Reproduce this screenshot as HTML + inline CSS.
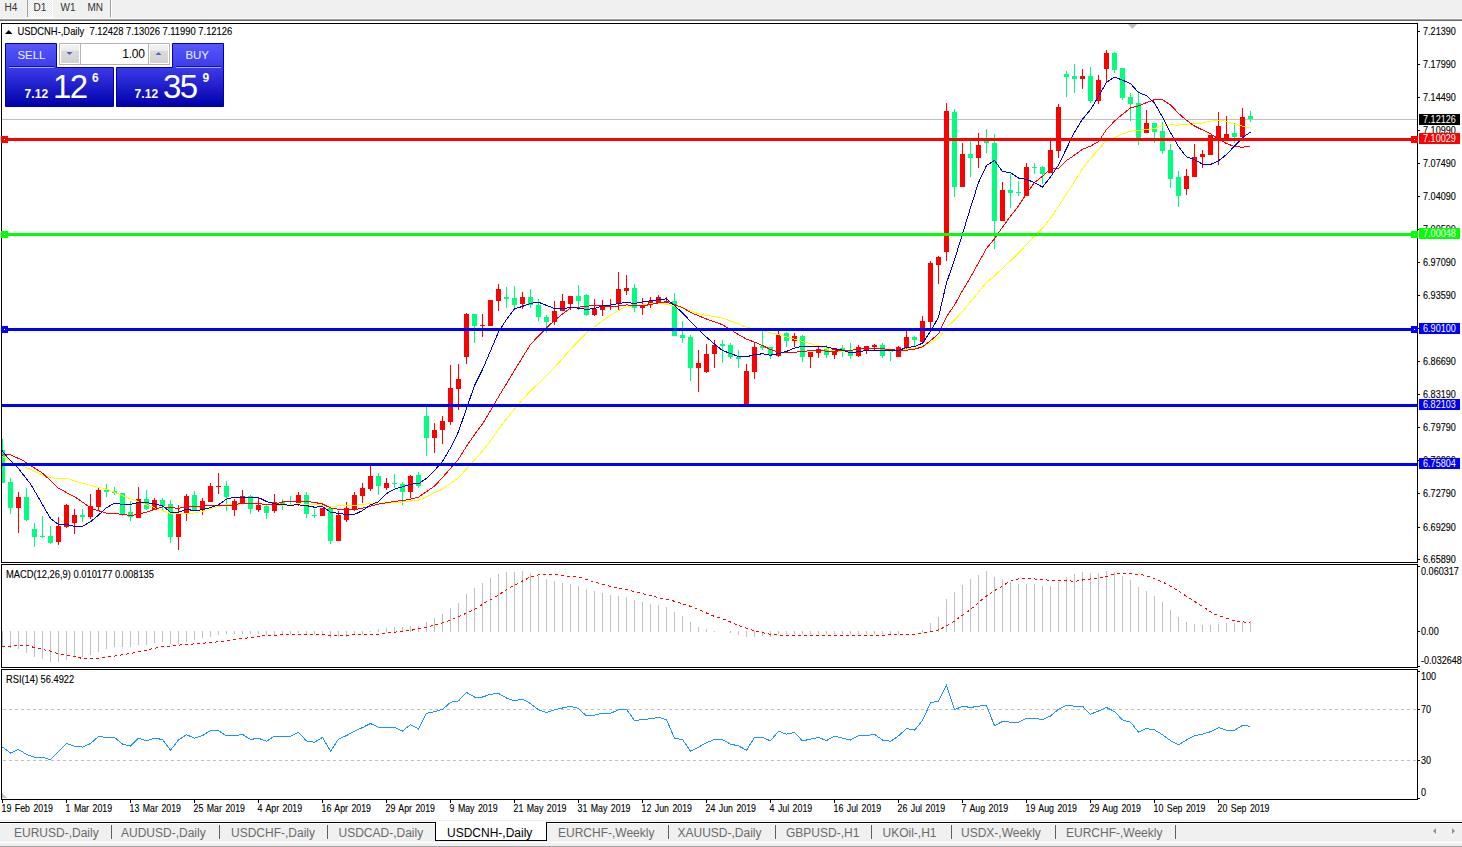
<!DOCTYPE html>
<html><head><meta charset="utf-8"><title>USDCNH Daily</title>
<style>
html,body{margin:0;padding:0;background:#fff;width:1462px;height:847px;overflow:hidden}
svg{position:absolute;left:0;top:0;font-family:"Liberation Sans",sans-serif}
rect{shape-rendering:crispEdges}
</style></head><body>
<svg width="1462" height="847" viewBox="0 0 1462 847">
<rect x="0" y="0" width="1462" height="18" fill="#F0F0F0"/>
<rect x="0" y="18" width="1462" height="1" fill="#F8F8F8"/>
<rect x="0" y="19" width="1462" height="1" fill="#A0A0A0"/>
<rect x="0" y="20" width="1462" height="1" fill="#696969"/>
<defs><pattern id="chk" x="0" y="0" width="2" height="2" patternUnits="userSpaceOnUse"><rect width="2" height="2" fill="#FFFFFF"/><rect width="1" height="1" fill="#E8E8E8"/><rect x="1" y="1" width="1" height="1" fill="#E8E8E8"/></pattern></defs>
<rect x="28" y="0" width="24" height="17" fill="url(#chk)"/>
<rect x="52" y="0" width="1" height="18" fill="#FFFFFF"/>
<rect x="27" y="17" width="26" height="1" fill="#FFFFFF"/>
<rect x="27" y="0" width="1" height="17" fill="#A0A0A0"/>
<rect x="110" y="0" width="1" height="17" fill="#A0A0A0"/>
<rect x="111" y="0" width="1" height="17" fill="#FFFFFF"/>
<text x="4.5" y="11" font-size="10" fill="#333" font-weight="normal" >H4</text>
<text x="33.5" y="11" font-size="10" fill="#333" font-weight="normal" >D1</text>
<text x="60.5" y="11" font-size="10" fill="#333" font-weight="normal" >W1</text>
<text x="87.5" y="11" font-size="10" fill="#333" font-weight="normal" >MN</text>
<defs><clipPath id="cm"><rect x="2" y="24" width="1415" height="538"/></clipPath><clipPath id="cd"><rect x="2" y="565" width="1415" height="102"/></clipPath><clipPath id="cr"><rect x="2" y="670" width="1415" height="129"/></clipPath></defs>
<g clip-path="url(#cm)">
<rect x="2" y="119" width="1415" height="1" fill="#C0C0C0"/>
<rect x="2" y="439" width="1" height="44" fill="#00FF7F"/>
<rect x="0" y="450" width="5" height="33" fill="#00FF7F"/>
<rect x="10" y="478" width="1" height="36" fill="#00FF7F"/>
<rect x="8" y="482" width="5" height="26" fill="#00FF7F"/>
<rect x="18" y="492" width="1" height="41" fill="#FF0000"/>
<rect x="16" y="497" width="5" height="11" fill="#FF0000"/>
<rect x="26" y="488" width="1" height="33" fill="#00FF7F"/>
<rect x="24" y="497" width="5" height="23" fill="#00FF7F"/>
<rect x="34" y="523" width="1" height="24" fill="#00FF7F"/>
<rect x="32" y="529" width="5" height="8" fill="#00FF7F"/>
<rect x="42" y="516" width="1" height="22" fill="#00FF7F"/>
<rect x="40" y="536" width="5" height="1" fill="#00FF7F"/>
<rect x="50" y="526" width="1" height="18" fill="#00FF7F"/>
<rect x="48" y="536" width="5" height="7" fill="#00FF7F"/>
<rect x="58" y="517" width="1" height="28" fill="#FF0000"/>
<rect x="56" y="526" width="5" height="16" fill="#FF0000"/>
<rect x="66" y="504" width="1" height="24" fill="#FF0000"/>
<rect x="64" y="505" width="5" height="22" fill="#FF0000"/>
<rect x="74" y="509" width="1" height="25" fill="#FF0000"/>
<rect x="72" y="515" width="5" height="8" fill="#FF0000"/>
<rect x="82" y="509" width="1" height="13" fill="#00FF7F"/>
<rect x="80" y="515" width="5" height="2" fill="#00FF7F"/>
<rect x="90" y="494" width="1" height="25" fill="#FF0000"/>
<rect x="88" y="506" width="5" height="11" fill="#FF0000"/>
<rect x="98" y="488" width="1" height="23" fill="#FF0000"/>
<rect x="96" y="490" width="5" height="17" fill="#FF0000"/>
<rect x="106" y="484" width="1" height="13" fill="#00FF7F"/>
<rect x="104" y="490" width="5" height="2" fill="#00FF7F"/>
<rect x="114" y="487" width="1" height="8" fill="#00FF7F"/>
<rect x="112" y="491" width="5" height="2" fill="#00FF7F"/>
<rect x="122" y="493" width="1" height="23" fill="#00FF7F"/>
<rect x="120" y="493" width="5" height="21" fill="#00FF7F"/>
<rect x="130" y="501" width="1" height="20" fill="#00FF7F"/>
<rect x="128" y="512" width="5" height="5" fill="#00FF7F"/>
<rect x="138" y="487" width="1" height="31" fill="#FF0000"/>
<rect x="136" y="499" width="5" height="19" fill="#FF0000"/>
<rect x="146" y="490" width="1" height="20" fill="#00FF7F"/>
<rect x="144" y="499" width="5" height="10" fill="#00FF7F"/>
<rect x="154" y="498" width="1" height="12" fill="#FF0000"/>
<rect x="152" y="500" width="5" height="10" fill="#FF0000"/>
<rect x="162" y="498" width="1" height="12" fill="#00FF7F"/>
<rect x="160" y="500" width="5" height="6" fill="#00FF7F"/>
<rect x="170" y="500" width="1" height="43" fill="#00FF7F"/>
<rect x="168" y="504" width="5" height="33" fill="#00FF7F"/>
<rect x="178" y="505" width="1" height="45" fill="#FF0000"/>
<rect x="176" y="514" width="5" height="23" fill="#FF0000"/>
<rect x="186" y="494" width="1" height="27" fill="#FF0000"/>
<rect x="184" y="496" width="5" height="18" fill="#FF0000"/>
<rect x="194" y="491" width="1" height="19" fill="#00FF7F"/>
<rect x="192" y="495" width="5" height="15" fill="#00FF7F"/>
<rect x="202" y="498" width="1" height="17" fill="#FF0000"/>
<rect x="200" y="501" width="5" height="9" fill="#FF0000"/>
<rect x="210" y="483" width="1" height="19" fill="#FF0000"/>
<rect x="208" y="486" width="5" height="16" fill="#FF0000"/>
<rect x="218" y="473" width="1" height="21" fill="#FF0000"/>
<rect x="216" y="486" width="5" height="1" fill="#FF0000"/>
<rect x="226" y="481" width="1" height="30" fill="#00FF7F"/>
<rect x="224" y="486" width="5" height="11" fill="#00FF7F"/>
<rect x="234" y="499" width="1" height="17" fill="#FF0000"/>
<rect x="232" y="501" width="5" height="9" fill="#FF0000"/>
<rect x="242" y="490" width="1" height="13" fill="#FF0000"/>
<rect x="240" y="496" width="5" height="7" fill="#FF0000"/>
<rect x="250" y="495" width="1" height="19" fill="#00FF7F"/>
<rect x="248" y="496" width="5" height="13" fill="#00FF7F"/>
<rect x="258" y="498" width="1" height="14" fill="#FF0000"/>
<rect x="256" y="505" width="5" height="5" fill="#FF0000"/>
<rect x="266" y="505" width="1" height="14" fill="#00FF7F"/>
<rect x="264" y="506" width="5" height="7" fill="#00FF7F"/>
<rect x="274" y="494" width="1" height="19" fill="#FF0000"/>
<rect x="272" y="502" width="5" height="9" fill="#FF0000"/>
<rect x="282" y="499" width="1" height="11" fill="#00FF7F"/>
<rect x="280" y="502" width="5" height="3" fill="#00FF7F"/>
<rect x="290" y="496" width="1" height="9" fill="#00FF7F"/>
<rect x="288" y="501" width="5" height="1" fill="#00FF7F"/>
<rect x="298" y="492" width="1" height="14" fill="#FF0000"/>
<rect x="296" y="495" width="5" height="8" fill="#FF0000"/>
<rect x="306" y="492" width="1" height="26" fill="#00FF7F"/>
<rect x="304" y="495" width="5" height="19" fill="#00FF7F"/>
<rect x="314" y="509" width="1" height="9" fill="#00FF7F"/>
<rect x="312" y="515" width="5" height="1" fill="#00FF7F"/>
<rect x="322" y="508" width="1" height="8" fill="#FF0000"/>
<rect x="320" y="508" width="5" height="8" fill="#FF0000"/>
<rect x="330" y="507" width="1" height="37" fill="#00FF7F"/>
<rect x="328" y="508" width="5" height="33" fill="#00FF7F"/>
<rect x="338" y="511" width="1" height="30" fill="#FF0000"/>
<rect x="336" y="515" width="5" height="26" fill="#FF0000"/>
<rect x="346" y="502" width="1" height="20" fill="#FF0000"/>
<rect x="344" y="508" width="5" height="12" fill="#FF0000"/>
<rect x="354" y="492" width="1" height="19" fill="#FF0000"/>
<rect x="352" y="495" width="5" height="15" fill="#FF0000"/>
<rect x="362" y="483" width="1" height="20" fill="#FF0000"/>
<rect x="360" y="488" width="5" height="8" fill="#FF0000"/>
<rect x="370" y="466" width="1" height="25" fill="#FF0000"/>
<rect x="368" y="476" width="5" height="13" fill="#FF0000"/>
<rect x="378" y="473" width="1" height="22" fill="#00FF7F"/>
<rect x="376" y="476" width="5" height="10" fill="#00FF7F"/>
<rect x="386" y="478" width="1" height="12" fill="#FF0000"/>
<rect x="384" y="483" width="5" height="5" fill="#FF0000"/>
<rect x="394" y="474" width="1" height="14" fill="#00FF7F"/>
<rect x="392" y="483" width="5" height="1" fill="#00FF7F"/>
<rect x="402" y="482" width="1" height="23" fill="#00FF7F"/>
<rect x="400" y="484" width="5" height="8" fill="#00FF7F"/>
<rect x="410" y="475" width="1" height="23" fill="#FF0000"/>
<rect x="408" y="476" width="5" height="16" fill="#FF0000"/>
<rect x="418" y="472" width="1" height="16" fill="#00FF7F"/>
<rect x="416" y="475" width="5" height="11" fill="#00FF7F"/>
<rect x="426" y="407" width="1" height="49" fill="#00FF7F"/>
<rect x="424" y="416" width="5" height="22" fill="#00FF7F"/>
<rect x="434" y="423" width="1" height="30" fill="#FF0000"/>
<rect x="432" y="430" width="5" height="8" fill="#FF0000"/>
<rect x="442" y="416" width="1" height="28" fill="#FF0000"/>
<rect x="440" y="421" width="5" height="9" fill="#FF0000"/>
<rect x="450" y="365" width="1" height="60" fill="#FF0000"/>
<rect x="448" y="388" width="5" height="34" fill="#FF0000"/>
<rect x="458" y="364" width="1" height="46" fill="#FF0000"/>
<rect x="456" y="379" width="5" height="10" fill="#FF0000"/>
<rect x="466" y="313" width="1" height="51" fill="#FF0000"/>
<rect x="464" y="314" width="5" height="43" fill="#FF0000"/>
<rect x="474" y="314" width="1" height="29" fill="#00FF7F"/>
<rect x="472" y="314" width="5" height="12" fill="#00FF7F"/>
<rect x="482" y="314" width="1" height="23" fill="#FF0000"/>
<rect x="480" y="325" width="5" height="1" fill="#FF0000"/>
<rect x="490" y="300" width="1" height="26" fill="#FF0000"/>
<rect x="488" y="300" width="5" height="26" fill="#FF0000"/>
<rect x="498" y="284" width="1" height="27" fill="#FF0000"/>
<rect x="496" y="289" width="5" height="12" fill="#FF0000"/>
<rect x="506" y="287" width="1" height="21" fill="#00FF7F"/>
<rect x="504" y="297" width="5" height="2" fill="#00FF7F"/>
<rect x="514" y="286" width="1" height="24" fill="#00FF7F"/>
<rect x="512" y="298" width="5" height="7" fill="#00FF7F"/>
<rect x="522" y="292" width="1" height="17" fill="#FF0000"/>
<rect x="520" y="297" width="5" height="7" fill="#FF0000"/>
<rect x="530" y="289" width="1" height="19" fill="#00FF7F"/>
<rect x="528" y="297" width="5" height="8" fill="#00FF7F"/>
<rect x="538" y="299" width="1" height="22" fill="#00FF7F"/>
<rect x="536" y="305" width="5" height="12" fill="#00FF7F"/>
<rect x="546" y="315" width="1" height="18" fill="#00FF7F"/>
<rect x="544" y="317" width="5" height="5" fill="#00FF7F"/>
<rect x="554" y="301" width="1" height="24" fill="#FF0000"/>
<rect x="552" y="311" width="5" height="11" fill="#FF0000"/>
<rect x="562" y="294" width="1" height="17" fill="#FF0000"/>
<rect x="560" y="301" width="5" height="10" fill="#FF0000"/>
<rect x="570" y="296" width="1" height="14" fill="#FF0000"/>
<rect x="568" y="296" width="5" height="8" fill="#FF0000"/>
<rect x="578" y="285" width="1" height="25" fill="#00FF7F"/>
<rect x="576" y="296" width="5" height="5" fill="#00FF7F"/>
<rect x="586" y="294" width="1" height="22" fill="#00FF7F"/>
<rect x="584" y="295" width="5" height="20" fill="#00FF7F"/>
<rect x="594" y="299" width="1" height="17" fill="#FF0000"/>
<rect x="592" y="309" width="5" height="6" fill="#FF0000"/>
<rect x="602" y="300" width="1" height="16" fill="#FF0000"/>
<rect x="600" y="305" width="5" height="5" fill="#FF0000"/>
<rect x="610" y="299" width="1" height="11" fill="#FF0000"/>
<rect x="608" y="306" width="5" height="1" fill="#FF0000"/>
<rect x="618" y="272" width="1" height="38" fill="#FF0000"/>
<rect x="616" y="289" width="5" height="14" fill="#FF0000"/>
<rect x="626" y="275" width="1" height="20" fill="#FF0000"/>
<rect x="624" y="288" width="5" height="3" fill="#FF0000"/>
<rect x="634" y="284" width="1" height="28" fill="#00FF7F"/>
<rect x="632" y="288" width="5" height="20" fill="#00FF7F"/>
<rect x="642" y="298" width="1" height="17" fill="#FF0000"/>
<rect x="640" y="305" width="5" height="3" fill="#FF0000"/>
<rect x="650" y="297" width="1" height="11" fill="#FF0000"/>
<rect x="648" y="301" width="5" height="3" fill="#FF0000"/>
<rect x="658" y="295" width="1" height="8" fill="#FF0000"/>
<rect x="656" y="297" width="5" height="6" fill="#FF0000"/>
<rect x="666" y="297" width="1" height="5" fill="#FF0000"/>
<rect x="664" y="301" width="5" height="1" fill="#FF0000"/>
<rect x="674" y="293" width="1" height="43" fill="#00FF7F"/>
<rect x="672" y="301" width="5" height="35" fill="#00FF7F"/>
<rect x="682" y="321" width="1" height="22" fill="#00FF7F"/>
<rect x="680" y="335" width="5" height="3" fill="#00FF7F"/>
<rect x="690" y="335" width="1" height="46" fill="#00FF7F"/>
<rect x="688" y="337" width="5" height="31" fill="#00FF7F"/>
<rect x="698" y="350" width="1" height="42" fill="#FF0000"/>
<rect x="696" y="363" width="5" height="5" fill="#FF0000"/>
<rect x="706" y="344" width="1" height="29" fill="#FF0000"/>
<rect x="704" y="354" width="5" height="18" fill="#FF0000"/>
<rect x="714" y="340" width="1" height="28" fill="#FF0000"/>
<rect x="712" y="345" width="5" height="9" fill="#FF0000"/>
<rect x="722" y="340" width="1" height="23" fill="#00FF7F"/>
<rect x="720" y="344" width="5" height="2" fill="#00FF7F"/>
<rect x="730" y="343" width="1" height="16" fill="#00FF7F"/>
<rect x="728" y="345" width="5" height="12" fill="#00FF7F"/>
<rect x="738" y="350" width="1" height="18" fill="#00FF7F"/>
<rect x="736" y="357" width="5" height="2" fill="#00FF7F"/>
<rect x="746" y="364" width="1" height="40" fill="#FF0000"/>
<rect x="744" y="371" width="5" height="33" fill="#FF0000"/>
<rect x="754" y="342" width="1" height="37" fill="#FF0000"/>
<rect x="752" y="347" width="5" height="25" fill="#FF0000"/>
<rect x="762" y="331" width="1" height="19" fill="#00FF7F"/>
<rect x="760" y="346" width="5" height="2" fill="#00FF7F"/>
<rect x="770" y="347" width="1" height="12" fill="#00FF7F"/>
<rect x="768" y="347" width="5" height="8" fill="#00FF7F"/>
<rect x="778" y="331" width="1" height="26" fill="#FF0000"/>
<rect x="776" y="335" width="5" height="21" fill="#FF0000"/>
<rect x="786" y="332" width="1" height="15" fill="#00FF7F"/>
<rect x="784" y="333" width="5" height="8" fill="#00FF7F"/>
<rect x="794" y="333" width="1" height="14" fill="#FF0000"/>
<rect x="792" y="336" width="5" height="5" fill="#FF0000"/>
<rect x="802" y="335" width="1" height="27" fill="#00FF7F"/>
<rect x="800" y="336" width="5" height="21" fill="#00FF7F"/>
<rect x="810" y="352" width="1" height="16" fill="#FF0000"/>
<rect x="808" y="352" width="5" height="5" fill="#FF0000"/>
<rect x="818" y="345" width="1" height="13" fill="#FF0000"/>
<rect x="816" y="349" width="5" height="4" fill="#FF0000"/>
<rect x="826" y="345" width="1" height="13" fill="#00FF7F"/>
<rect x="824" y="348" width="5" height="7" fill="#00FF7F"/>
<rect x="834" y="348" width="1" height="11" fill="#FF0000"/>
<rect x="832" y="348" width="5" height="7" fill="#FF0000"/>
<rect x="842" y="345" width="1" height="12" fill="#00FF7F"/>
<rect x="840" y="348" width="5" height="2" fill="#00FF7F"/>
<rect x="850" y="343" width="1" height="16" fill="#00FF7F"/>
<rect x="848" y="351" width="5" height="5" fill="#00FF7F"/>
<rect x="858" y="345" width="1" height="12" fill="#FF0000"/>
<rect x="856" y="347" width="5" height="9" fill="#FF0000"/>
<rect x="866" y="346" width="1" height="8" fill="#FF0000"/>
<rect x="864" y="346" width="5" height="5" fill="#FF0000"/>
<rect x="874" y="344" width="1" height="6" fill="#FF0000"/>
<rect x="872" y="345" width="5" height="2" fill="#FF0000"/>
<rect x="882" y="343" width="1" height="15" fill="#00FF7F"/>
<rect x="880" y="345" width="5" height="11" fill="#00FF7F"/>
<rect x="890" y="349" width="1" height="12" fill="#00FF7F"/>
<rect x="888" y="351" width="5" height="1" fill="#00FF7F"/>
<rect x="898" y="346" width="1" height="11" fill="#FF0000"/>
<rect x="896" y="347" width="5" height="10" fill="#FF0000"/>
<rect x="906" y="331" width="1" height="20" fill="#FF0000"/>
<rect x="904" y="337" width="5" height="11" fill="#FF0000"/>
<rect x="914" y="336" width="1" height="10" fill="#00FF7F"/>
<rect x="912" y="337" width="5" height="3" fill="#00FF7F"/>
<rect x="922" y="316" width="1" height="26" fill="#FF0000"/>
<rect x="920" y="321" width="5" height="21" fill="#FF0000"/>
<rect x="930" y="261" width="1" height="68" fill="#FF0000"/>
<rect x="928" y="263" width="5" height="59" fill="#FF0000"/>
<rect x="938" y="256" width="1" height="28" fill="#FF0000"/>
<rect x="936" y="257" width="5" height="8" fill="#FF0000"/>
<rect x="946" y="103" width="1" height="158" fill="#FF0000"/>
<rect x="944" y="111" width="5" height="141" fill="#FF0000"/>
<rect x="954" y="109" width="1" height="88" fill="#00FF7F"/>
<rect x="952" y="112" width="5" height="75" fill="#00FF7F"/>
<rect x="962" y="143" width="1" height="44" fill="#FF0000"/>
<rect x="960" y="154" width="5" height="33" fill="#FF0000"/>
<rect x="970" y="141" width="1" height="36" fill="#00FF7F"/>
<rect x="968" y="154" width="5" height="4" fill="#00FF7F"/>
<rect x="978" y="133" width="1" height="35" fill="#FF0000"/>
<rect x="976" y="145" width="5" height="13" fill="#FF0000"/>
<rect x="986" y="129" width="1" height="24" fill="#00FF7F"/>
<rect x="984" y="141" width="5" height="2" fill="#00FF7F"/>
<rect x="994" y="134" width="1" height="115" fill="#00FF7F"/>
<rect x="992" y="143" width="5" height="78" fill="#00FF7F"/>
<rect x="1002" y="182" width="1" height="39" fill="#FF0000"/>
<rect x="1000" y="190" width="5" height="31" fill="#FF0000"/>
<rect x="1010" y="174" width="1" height="34" fill="#00FF7F"/>
<rect x="1008" y="190" width="5" height="3" fill="#00FF7F"/>
<rect x="1018" y="181" width="1" height="15" fill="#00FF7F"/>
<rect x="1016" y="192" width="5" height="1" fill="#00FF7F"/>
<rect x="1026" y="163" width="1" height="33" fill="#FF0000"/>
<rect x="1024" y="167" width="5" height="29" fill="#FF0000"/>
<rect x="1034" y="163" width="1" height="11" fill="#00FF7F"/>
<rect x="1032" y="167" width="5" height="1" fill="#00FF7F"/>
<rect x="1042" y="166" width="1" height="18" fill="#00FF7F"/>
<rect x="1040" y="167" width="5" height="7" fill="#00FF7F"/>
<rect x="1050" y="141" width="1" height="32" fill="#FF0000"/>
<rect x="1048" y="150" width="5" height="23" fill="#FF0000"/>
<rect x="1058" y="104" width="1" height="54" fill="#FF0000"/>
<rect x="1056" y="107" width="5" height="44" fill="#FF0000"/>
<rect x="1066" y="71" width="1" height="26" fill="#00FF7F"/>
<rect x="1064" y="74" width="5" height="3" fill="#00FF7F"/>
<rect x="1074" y="64" width="1" height="29" fill="#00FF7F"/>
<rect x="1072" y="76" width="5" height="3" fill="#00FF7F"/>
<rect x="1082" y="69" width="1" height="20" fill="#FF0000"/>
<rect x="1080" y="76" width="5" height="3" fill="#FF0000"/>
<rect x="1090" y="67" width="1" height="36" fill="#00FF7F"/>
<rect x="1088" y="76" width="5" height="25" fill="#00FF7F"/>
<rect x="1098" y="75" width="1" height="29" fill="#FF0000"/>
<rect x="1096" y="80" width="5" height="21" fill="#FF0000"/>
<rect x="1106" y="50" width="1" height="32" fill="#FF0000"/>
<rect x="1104" y="53" width="5" height="16" fill="#FF0000"/>
<rect x="1114" y="52" width="1" height="21" fill="#00FF7F"/>
<rect x="1112" y="53" width="5" height="17" fill="#00FF7F"/>
<rect x="1122" y="68" width="1" height="32" fill="#00FF7F"/>
<rect x="1120" y="68" width="5" height="30" fill="#00FF7F"/>
<rect x="1130" y="93" width="1" height="28" fill="#00FF7F"/>
<rect x="1128" y="97" width="5" height="7" fill="#00FF7F"/>
<rect x="1138" y="91" width="1" height="54" fill="#00FF7F"/>
<rect x="1136" y="103" width="5" height="35" fill="#00FF7F"/>
<rect x="1146" y="110" width="1" height="23" fill="#FF0000"/>
<rect x="1144" y="123" width="5" height="10" fill="#FF0000"/>
<rect x="1154" y="123" width="1" height="20" fill="#00FF7F"/>
<rect x="1152" y="123" width="5" height="9" fill="#00FF7F"/>
<rect x="1162" y="122" width="1" height="32" fill="#00FF7F"/>
<rect x="1160" y="131" width="5" height="20" fill="#00FF7F"/>
<rect x="1170" y="144" width="1" height="44" fill="#00FF7F"/>
<rect x="1168" y="150" width="5" height="29" fill="#00FF7F"/>
<rect x="1178" y="171" width="1" height="36" fill="#00FF7F"/>
<rect x="1176" y="177" width="5" height="19" fill="#00FF7F"/>
<rect x="1186" y="169" width="1" height="26" fill="#FF0000"/>
<rect x="1184" y="176" width="5" height="13" fill="#FF0000"/>
<rect x="1194" y="144" width="1" height="33" fill="#FF0000"/>
<rect x="1192" y="157" width="5" height="20" fill="#FF0000"/>
<rect x="1202" y="150" width="1" height="18" fill="#FF0000"/>
<rect x="1200" y="154" width="5" height="3" fill="#FF0000"/>
<rect x="1210" y="135" width="1" height="20" fill="#FF0000"/>
<rect x="1208" y="135" width="5" height="20" fill="#FF0000"/>
<rect x="1218" y="112" width="1" height="53" fill="#FF0000"/>
<rect x="1216" y="126" width="5" height="15" fill="#FF0000"/>
<rect x="1226" y="116" width="1" height="25" fill="#FF0000"/>
<rect x="1224" y="134" width="5" height="7" fill="#FF0000"/>
<rect x="1234" y="123" width="1" height="20" fill="#00FF7F"/>
<rect x="1232" y="133" width="5" height="4" fill="#00FF7F"/>
<rect x="1242" y="108" width="1" height="29" fill="#FF0000"/>
<rect x="1240" y="117" width="5" height="20" fill="#FF0000"/>
<rect x="1250" y="111" width="1" height="11" fill="#00FF7F"/>
<rect x="1248" y="116" width="5" height="3" fill="#00FF7F"/>
<polyline points="2.0,456.5 15.4,462.7 30.7,469.5 46.0,476.5 58.3,478.9 66.0,478.1 79.8,482.7 107.5,489.5 130.5,498.8 153.5,507.3 162.5,510.7 170.5,513.3 178.5,513.5 186.5,513.5 194.5,513.0 202.5,511.3 210.5,508.9 218.5,506.2 226.5,504.8 234.5,504.6 242.5,503.7 250.5,503.3 258.5,503.3 266.5,504.4 274.5,504.8 282.5,505.4 290.5,504.8 298.5,503.8 306.5,504.5 314.5,504.8 322.5,505.2 330.5,506.9 338.5,505.8 346.5,505.5 354.5,505.5 362.5,504.5 370.5,503.3 378.5,503.3 386.5,503.1 394.5,502.5 402.5,502.1 410.5,501.1 418.5,500.0 426.5,496.8 434.5,492.9 442.5,489.0 450.5,483.5 458.5,477.6 466.5,469.0 474.5,460.0 482.5,450.9 490.5,441.0 498.5,429.0 506.5,418.7 514.5,409.1 522.5,399.6 530.5,390.9 538.5,383.4 546.5,375.5 554.5,367.4 562.5,358.6 570.5,349.3 578.5,341.0 586.5,332.8 594.5,326.7 602.5,320.7 610.5,315.3 618.5,310.5 626.5,306.2 634.5,305.9 642.5,304.9 650.5,303.8 658.5,303.6 666.5,304.2 674.5,306.0 682.5,307.5 690.5,310.9 698.5,313.7 706.5,315.5 714.5,316.5 722.5,318.2 730.5,320.9 738.5,323.9 746.5,327.2 754.5,328.7 762.5,330.6 770.5,333.0 778.5,334.4 786.5,336.8 794.5,339.1 802.5,341.5 810.5,343.7 818.5,346.0 826.5,348.7 834.5,351.0 842.5,351.6 850.5,352.5 858.5,351.5 866.5,350.7 874.5,350.3 882.5,350.8 890.5,351.1 898.5,350.6 906.5,349.5 914.5,348.1 922.5,346.8 930.5,342.8 938.5,338.1 946.5,327.5 954.5,320.1 962.5,311.5 970.5,302.0 978.5,292.1 986.5,282.3 994.5,275.9 1002.5,268.4 1010.5,260.9 1018.5,253.2 1026.5,244.6 1034.5,236.1 1042.5,228.0 1050.5,218.2 1058.5,206.5 1066.5,193.6 1074.5,181.4 1082.5,168.8 1090.5,158.3 1098.5,149.6 1106.5,139.9 1114.5,137.9 1122.5,133.7 1130.5,131.3 1138.5,130.4 1146.5,129.3 1154.5,128.8 1162.5,125.5 1170.5,124.9 1178.5,125.1 1186.5,124.3 1194.5,123.8 1202.5,123.1 1210.5,121.3 1218.5,120.1 1226.5,121.4 1234.5,124.3 1242.5,126.1 1250.5,128.1" fill="none" stroke="#FFFF00" stroke-width="1" shape-rendering="crispEdges"/>
<polyline points="2.0,455.1 9.2,454.3 23.0,460.5 43.0,473.5 58.3,488.1 76.8,498.1 92.0,508.8 106.5,513.1 114.5,513.8 122.5,514.2 130.5,515.6 138.5,514.1 146.5,512.1 154.5,509.5 162.5,506.9 170.5,507.6 178.5,508.3 186.5,506.9 194.5,506.4 202.5,506.1 210.5,505.8 218.5,505.4 226.5,505.6 234.5,504.7 242.5,503.2 250.5,503.9 258.5,503.6 266.5,504.6 274.5,504.3 282.5,502.0 290.5,501.1 298.5,501.1 306.5,501.4 314.5,502.4 322.5,504.0 330.5,507.9 338.5,509.2 346.5,509.7 354.5,509.6 362.5,508.1 370.5,506.1 378.5,504.1 386.5,502.8 394.5,501.3 402.5,500.6 410.5,499.2 418.5,497.2 426.5,491.6 434.5,486.1 442.5,477.5 450.5,468.4 458.5,459.2 466.5,446.3 474.5,434.7 482.5,423.9 490.5,410.6 498.5,396.8 506.5,383.6 514.5,370.2 522.5,357.4 530.5,344.5 538.5,335.9 546.5,328.1 554.5,320.3 562.5,314.1 570.5,308.1 578.5,307.2 586.5,306.4 594.5,305.3 602.5,305.6 610.5,306.9 618.5,306.1 626.5,304.9 634.5,305.7 642.5,305.7 650.5,304.6 658.5,302.8 666.5,302.1 674.5,304.6 682.5,307.6 690.5,312.4 698.5,315.8 706.5,319.0 714.5,321.9 722.5,324.7 730.5,329.6 738.5,334.6 746.5,339.1 754.5,342.1 762.5,345.5 770.5,349.6 778.5,352.1 786.5,352.4 794.5,352.3 802.5,351.5 810.5,350.7 818.5,350.4 826.5,351.1 834.5,351.2 842.5,350.7 850.5,350.5 858.5,348.8 866.5,348.7 874.5,348.5 882.5,348.6 890.5,349.8 898.5,350.2 906.5,350.3 914.5,349.1 922.5,346.9 930.5,340.7 938.5,333.7 946.5,316.8 954.5,305.1 962.5,290.7 970.5,277.2 978.5,262.9 986.5,248.4 994.5,238.8 1002.5,227.2 1010.5,216.2 1018.5,205.9 1026.5,193.6 1034.5,182.6 1042.5,176.3 1050.5,168.6 1058.5,168.4 1066.5,160.5 1074.5,155.1 1082.5,149.3 1090.5,146.1 1098.5,141.6 1106.5,129.6 1114.5,121.1 1122.5,114.3 1130.5,107.9 1138.5,105.9 1146.5,102.6 1154.5,99.6 1162.5,99.7 1170.5,104.9 1178.5,113.4 1186.5,120.3 1194.5,126.1 1202.5,129.9 1210.5,133.8 1218.5,139.0 1226.5,143.6 1234.5,146.4 1242.5,147.3 1250.5,145.9" fill="none" stroke="#FF0000" stroke-width="1" shape-rendering="crispEdges"/>
<polyline points="2.0,450.5 9.2,459.5 18.4,468.5 30.7,484.2 50.5,518.4 58.5,524.5 66.5,524.1 74.5,526.6 82.5,526.2 90.5,521.8 98.5,515.1 106.5,507.8 114.5,503.1 122.5,504.4 130.5,504.6 138.5,502.1 146.5,502.5 154.5,503.9 162.5,505.9 170.5,512.2 178.5,512.2 186.5,509.2 194.5,510.8 202.5,509.6 210.5,507.6 218.5,504.8 226.5,499.1 234.5,497.2 242.5,497.2 250.5,497.1 258.5,497.6 266.5,501.5 274.5,503.8 282.5,504.9 290.5,505.1 298.5,504.9 306.5,505.6 314.5,507.2 322.5,506.5 330.5,512.1 338.5,513.5 346.5,514.4 354.5,514.4 362.5,510.6 370.5,504.9 378.5,501.8 386.5,493.5 394.5,489.1 402.5,486.8 410.5,484.1 418.5,483.8 426.5,478.4 434.5,470.4 442.5,461.5 450.5,447.8 458.5,431.6 466.5,408.5 474.5,385.6 482.5,369.5 490.5,350.9 498.5,332.1 506.5,319.4 514.5,308.8 522.5,306.4 530.5,303.4 538.5,302.2 546.5,305.4 554.5,308.5 562.5,308.8 570.5,307.5 578.5,308.1 586.5,309.5 594.5,308.4 602.5,305.9 610.5,305.2 618.5,303.5 626.5,302.4 634.5,303.4 642.5,301.9 650.5,300.8 658.5,299.6 666.5,298.9 674.5,305.6 682.5,312.8 690.5,321.4 698.5,329.6 706.5,337.2 714.5,344.1 722.5,350.5 730.5,353.5 738.5,356.5 746.5,356.9 754.5,354.6 762.5,353.8 770.5,355.2 778.5,353.6 786.5,351.4 794.5,348.1 802.5,346.1 810.5,346.8 818.5,346.9 826.5,346.9 834.5,348.8 842.5,350.1 850.5,352.9 858.5,351.5 866.5,350.6 874.5,350.1 882.5,350.2 890.5,350.8 898.5,350.4 906.5,347.6 914.5,346.6 922.5,343.1 930.5,331.4 938.5,317.2 946.5,282.8 954.5,259.9 962.5,233.8 970.5,207.8 978.5,182.6 986.5,165.5 994.5,160.4 1002.5,171.6 1010.5,172.5 1018.5,178.1 1026.5,179.4 1034.5,182.6 1042.5,187.1 1050.5,176.9 1058.5,165.1 1066.5,148.5 1074.5,132.2 1082.5,119.2 1090.5,109.6 1098.5,96.2 1106.5,82.4 1114.5,77.1 1122.5,80.1 1130.5,83.6 1138.5,92.5 1146.5,95.6 1154.5,103.1 1162.5,117.1 1170.5,132.6 1178.5,146.6 1186.5,156.9 1194.5,159.6 1202.5,164.1 1210.5,164.5 1218.5,160.9 1226.5,154.5 1234.5,146.1 1242.5,137.6 1250.5,132.2" fill="none" stroke="#0000C8" stroke-width="1" shape-rendering="crispEdges"/>
</g>
<rect x="2" y="138" width="1415" height="3" fill="#FF0000"/>
<rect x="2" y="233" width="1415" height="3" fill="#00FF00"/>
<rect x="2" y="328" width="1415" height="3" fill="#0000FF"/>
<rect x="2" y="404" width="1415" height="3" fill="#0000FF"/>
<rect x="2" y="463" width="1415" height="3" fill="#0000FF"/>
<polygon points="1128,24 1137,24 1132.5,29" fill="#C0C0C0"/>
<g clip-path="url(#cd)">
<rect x="2" y="631" width="1" height="15" fill="#C0C0C0"/>
<rect x="10" y="631" width="1" height="17" fill="#C0C0C0"/>
<rect x="18" y="631" width="1" height="18" fill="#C0C0C0"/>
<rect x="26" y="631" width="1" height="22" fill="#C0C0C0"/>
<rect x="34" y="631" width="1" height="26" fill="#C0C0C0"/>
<rect x="42" y="631" width="1" height="28" fill="#C0C0C0"/>
<rect x="50" y="631" width="1" height="31" fill="#C0C0C0"/>
<rect x="58" y="631" width="1" height="31" fill="#C0C0C0"/>
<rect x="66" y="631" width="1" height="29" fill="#C0C0C0"/>
<rect x="74" y="631" width="1" height="26" fill="#C0C0C0"/>
<rect x="82" y="631" width="1" height="26" fill="#C0C0C0"/>
<rect x="90" y="631" width="1" height="24" fill="#C0C0C0"/>
<rect x="98" y="631" width="1" height="21" fill="#C0C0C0"/>
<rect x="106" y="631" width="1" height="18" fill="#C0C0C0"/>
<rect x="114" y="631" width="1" height="16" fill="#C0C0C0"/>
<rect x="122" y="631" width="1" height="16" fill="#C0C0C0"/>
<rect x="130" y="631" width="1" height="16" fill="#C0C0C0"/>
<rect x="138" y="631" width="1" height="14" fill="#C0C0C0"/>
<rect x="146" y="631" width="1" height="14" fill="#C0C0C0"/>
<rect x="154" y="631" width="1" height="12" fill="#C0C0C0"/>
<rect x="162" y="631" width="1" height="11" fill="#C0C0C0"/>
<rect x="170" y="631" width="1" height="13" fill="#C0C0C0"/>
<rect x="178" y="631" width="1" height="13" fill="#C0C0C0"/>
<rect x="186" y="631" width="1" height="11" fill="#C0C0C0"/>
<rect x="194" y="631" width="1" height="9" fill="#C0C0C0"/>
<rect x="202" y="631" width="1" height="7" fill="#C0C0C0"/>
<rect x="210" y="631" width="1" height="6" fill="#C0C0C0"/>
<rect x="218" y="631" width="1" height="4" fill="#C0C0C0"/>
<rect x="226" y="631" width="1" height="3" fill="#C0C0C0"/>
<rect x="234" y="631" width="1" height="3" fill="#C0C0C0"/>
<rect x="242" y="631" width="1" height="3" fill="#C0C0C0"/>
<rect x="250" y="631" width="1" height="3" fill="#C0C0C0"/>
<rect x="258" y="631" width="1" height="3" fill="#C0C0C0"/>
<rect x="266" y="631" width="1" height="4" fill="#C0C0C0"/>
<rect x="274" y="631" width="1" height="4" fill="#C0C0C0"/>
<rect x="282" y="631" width="1" height="3" fill="#C0C0C0"/>
<rect x="290" y="631" width="1" height="3" fill="#C0C0C0"/>
<rect x="298" y="631" width="1" height="2" fill="#C0C0C0"/>
<rect x="306" y="631" width="1" height="3" fill="#C0C0C0"/>
<rect x="314" y="631" width="1" height="3" fill="#C0C0C0"/>
<rect x="322" y="631" width="1" height="3" fill="#C0C0C0"/>
<rect x="330" y="631" width="1" height="7" fill="#C0C0C0"/>
<rect x="338" y="631" width="1" height="6" fill="#C0C0C0"/>
<rect x="346" y="631" width="1" height="6" fill="#C0C0C0"/>
<rect x="354" y="631" width="1" height="4" fill="#C0C0C0"/>
<rect x="362" y="631" width="1" height="3" fill="#C0C0C0"/>
<rect x="370" y="631" width="1" height="1" fill="#C0C0C0"/>
<rect x="378" y="629" width="1" height="3" fill="#C0C0C0"/>
<rect x="386" y="628" width="1" height="4" fill="#C0C0C0"/>
<rect x="394" y="627" width="1" height="5" fill="#C0C0C0"/>
<rect x="402" y="627" width="1" height="5" fill="#C0C0C0"/>
<rect x="410" y="626" width="1" height="6" fill="#C0C0C0"/>
<rect x="418" y="626" width="1" height="6" fill="#C0C0C0"/>
<rect x="426" y="622" width="1" height="10" fill="#C0C0C0"/>
<rect x="434" y="618" width="1" height="14" fill="#C0C0C0"/>
<rect x="442" y="614" width="1" height="18" fill="#C0C0C0"/>
<rect x="450" y="608" width="1" height="24" fill="#C0C0C0"/>
<rect x="458" y="603" width="1" height="29" fill="#C0C0C0"/>
<rect x="466" y="594" width="1" height="38" fill="#C0C0C0"/>
<rect x="474" y="588" width="1" height="44" fill="#C0C0C0"/>
<rect x="482" y="583" width="1" height="49" fill="#C0C0C0"/>
<rect x="490" y="578" width="1" height="54" fill="#C0C0C0"/>
<rect x="498" y="574" width="1" height="58" fill="#C0C0C0"/>
<rect x="506" y="572" width="1" height="60" fill="#C0C0C0"/>
<rect x="514" y="572" width="1" height="60" fill="#C0C0C0"/>
<rect x="522" y="571" width="1" height="61" fill="#C0C0C0"/>
<rect x="530" y="573" width="1" height="59" fill="#C0C0C0"/>
<rect x="538" y="576" width="1" height="56" fill="#C0C0C0"/>
<rect x="546" y="579" width="1" height="53" fill="#C0C0C0"/>
<rect x="554" y="581" width="1" height="51" fill="#C0C0C0"/>
<rect x="562" y="583" width="1" height="49" fill="#C0C0C0"/>
<rect x="570" y="584" width="1" height="48" fill="#C0C0C0"/>
<rect x="578" y="586" width="1" height="46" fill="#C0C0C0"/>
<rect x="586" y="589" width="1" height="43" fill="#C0C0C0"/>
<rect x="594" y="591" width="1" height="41" fill="#C0C0C0"/>
<rect x="602" y="593" width="1" height="39" fill="#C0C0C0"/>
<rect x="610" y="595" width="1" height="37" fill="#C0C0C0"/>
<rect x="618" y="596" width="1" height="36" fill="#C0C0C0"/>
<rect x="626" y="597" width="1" height="35" fill="#C0C0C0"/>
<rect x="634" y="600" width="1" height="32" fill="#C0C0C0"/>
<rect x="642" y="602" width="1" height="30" fill="#C0C0C0"/>
<rect x="650" y="604" width="1" height="28" fill="#C0C0C0"/>
<rect x="658" y="605" width="1" height="27" fill="#C0C0C0"/>
<rect x="666" y="607" width="1" height="25" fill="#C0C0C0"/>
<rect x="674" y="612" width="1" height="20" fill="#C0C0C0"/>
<rect x="682" y="616" width="1" height="16" fill="#C0C0C0"/>
<rect x="690" y="622" width="1" height="10" fill="#C0C0C0"/>
<rect x="698" y="627" width="1" height="5" fill="#C0C0C0"/>
<rect x="706" y="629" width="1" height="3" fill="#C0C0C0"/>
<rect x="714" y="631" width="1" height="1" fill="#C0C0C0"/>
<rect x="730" y="631" width="1" height="2" fill="#C0C0C0"/>
<rect x="738" y="631" width="1" height="4" fill="#C0C0C0"/>
<rect x="746" y="631" width="1" height="6" fill="#C0C0C0"/>
<rect x="754" y="631" width="1" height="6" fill="#C0C0C0"/>
<rect x="762" y="631" width="1" height="5" fill="#C0C0C0"/>
<rect x="770" y="631" width="1" height="6" fill="#C0C0C0"/>
<rect x="778" y="631" width="1" height="3" fill="#C0C0C0"/>
<rect x="786" y="631" width="1" height="3" fill="#C0C0C0"/>
<rect x="794" y="631" width="1" height="3" fill="#C0C0C0"/>
<rect x="802" y="631" width="1" height="3" fill="#C0C0C0"/>
<rect x="810" y="631" width="1" height="3" fill="#C0C0C0"/>
<rect x="818" y="631" width="1" height="3" fill="#C0C0C0"/>
<rect x="826" y="631" width="1" height="3" fill="#C0C0C0"/>
<rect x="834" y="631" width="1" height="3" fill="#C0C0C0"/>
<rect x="842" y="631" width="1" height="3" fill="#C0C0C0"/>
<rect x="850" y="631" width="1" height="3" fill="#C0C0C0"/>
<rect x="858" y="631" width="1" height="3" fill="#C0C0C0"/>
<rect x="866" y="631" width="1" height="3" fill="#C0C0C0"/>
<rect x="874" y="631" width="1" height="3" fill="#C0C0C0"/>
<rect x="882" y="631" width="1" height="3" fill="#C0C0C0"/>
<rect x="890" y="631" width="1" height="3" fill="#C0C0C0"/>
<rect x="898" y="631" width="1" height="3" fill="#C0C0C0"/>
<rect x="922" y="630" width="1" height="2" fill="#C0C0C0"/>
<rect x="930" y="623" width="1" height="9" fill="#C0C0C0"/>
<rect x="938" y="617" width="1" height="15" fill="#C0C0C0"/>
<rect x="946" y="599" width="1" height="33" fill="#C0C0C0"/>
<rect x="954" y="592" width="1" height="40" fill="#C0C0C0"/>
<rect x="962" y="585" width="1" height="47" fill="#C0C0C0"/>
<rect x="970" y="579" width="1" height="53" fill="#C0C0C0"/>
<rect x="978" y="575" width="1" height="57" fill="#C0C0C0"/>
<rect x="986" y="571" width="1" height="61" fill="#C0C0C0"/>
<rect x="994" y="577" width="1" height="55" fill="#C0C0C0"/>
<rect x="1002" y="579" width="1" height="53" fill="#C0C0C0"/>
<rect x="1010" y="582" width="1" height="50" fill="#C0C0C0"/>
<rect x="1018" y="584" width="1" height="48" fill="#C0C0C0"/>
<rect x="1026" y="584" width="1" height="48" fill="#C0C0C0"/>
<rect x="1034" y="584" width="1" height="48" fill="#C0C0C0"/>
<rect x="1042" y="586" width="1" height="46" fill="#C0C0C0"/>
<rect x="1050" y="586" width="1" height="46" fill="#C0C0C0"/>
<rect x="1058" y="582" width="1" height="50" fill="#C0C0C0"/>
<rect x="1066" y="577" width="1" height="55" fill="#C0C0C0"/>
<rect x="1074" y="574" width="1" height="58" fill="#C0C0C0"/>
<rect x="1082" y="572" width="1" height="60" fill="#C0C0C0"/>
<rect x="1090" y="573" width="1" height="59" fill="#C0C0C0"/>
<rect x="1098" y="573" width="1" height="59" fill="#C0C0C0"/>
<rect x="1106" y="571" width="1" height="61" fill="#C0C0C0"/>
<rect x="1114" y="572" width="1" height="60" fill="#C0C0C0"/>
<rect x="1122" y="576" width="1" height="56" fill="#C0C0C0"/>
<rect x="1130" y="580" width="1" height="52" fill="#C0C0C0"/>
<rect x="1138" y="587" width="1" height="45" fill="#C0C0C0"/>
<rect x="1146" y="591" width="1" height="41" fill="#C0C0C0"/>
<rect x="1154" y="596" width="1" height="36" fill="#C0C0C0"/>
<rect x="1162" y="602" width="1" height="30" fill="#C0C0C0"/>
<rect x="1170" y="610" width="1" height="22" fill="#C0C0C0"/>
<rect x="1178" y="617" width="1" height="15" fill="#C0C0C0"/>
<rect x="1186" y="622" width="1" height="10" fill="#C0C0C0"/>
<rect x="1194" y="624" width="1" height="8" fill="#C0C0C0"/>
<rect x="1202" y="625" width="1" height="7" fill="#C0C0C0"/>
<rect x="1210" y="625" width="1" height="7" fill="#C0C0C0"/>
<rect x="1218" y="624" width="1" height="8" fill="#C0C0C0"/>
<rect x="1226" y="623" width="1" height="9" fill="#C0C0C0"/>
<rect x="1234" y="623" width="1" height="9" fill="#C0C0C0"/>
<rect x="1242" y="622" width="1" height="10" fill="#C0C0C0"/>
<rect x="1250" y="621" width="1" height="11" fill="#C0C0C0"/>
<polyline points="2.1,646.5 26.7,645.2 33.8,647.4 40.9,649.1 53.4,651.8 58.7,654.1 74.7,656.3 81.8,658.4 99.6,658.4 135.2,652.7 160.0,647.0 177.8,645.2 213.0,642.4 237.0,639.3 260.2,636.2 264.3,635.2 323.1,634.4 327.2,635.5 377.8,634.4 385.2,633.1 410.0,630.5 427.8,626.9 445.6,622.1 463.4,614.5 475.9,608.6 484.7,602.9 499.0,594.9 507.1,589.0 519.6,582.5 531.1,576.6 540.9,574.4 556.9,574.4 567.6,576.2 581.8,577.6 587.1,579.8 610.3,586.5 628.0,589.6 635.2,591.9 645.8,594.4 656.5,597.2 670.7,600.2 681.4,603.3 688.5,605.6 699.2,609.7 711.6,615.4 724.1,619.3 736.5,624.6 749.0,629.2 760.7,632.2 771.3,634.6 783.8,635.3 874.5,635.3 916.1,634.2 932.5,631.5 940.2,629.3 951.1,623.3 962.1,615.6 969.7,610.2 978.5,602.5 987.3,595.4 993.8,591.0 1000.4,587.2 1007.1,583.0 1014.2,579.4 1023.1,578.4 1040.9,579.3 1049.8,580.3 1076.5,581.2 1081.8,580.1 1104.9,577.1 1113.8,574.1 1131.6,573.6 1142.3,574.8 1152.9,578.0 1167.2,584.2 1177.8,590.8 1188.5,597.6 1199.2,604.3 1213.4,613.6 1224.1,617.5 1234.7,620.7 1247.2,622.5 1250.0,622.7" fill="none" stroke="#FF0000" stroke-width="1" stroke-dasharray="3 3" shape-rendering="crispEdges"/>
</g>
<line x1="3" y1="709.5" x2="1416" y2="709.5" stroke="#C0C0C0" stroke-width="1" stroke-dasharray="3 3"/>
<line x1="3" y1="760.5" x2="1416" y2="760.5" stroke="#C0C0C0" stroke-width="1" stroke-dasharray="3 3"/>
<g clip-path="url(#cr)">
<polyline points="2.5,747.1 10.5,753.0 18.5,749.5 26.5,754.3 34.5,757.3 42.5,757.3 50.5,759.6 58.5,751.6 66.5,743.6 74.5,746.2 82.5,747.1 90.5,743.6 98.5,736.5 106.5,737.4 114.5,737.4 122.5,744.1 130.5,746.2 138.5,738.2 146.5,740.9 154.5,738.2 162.5,739.5 170.5,750.2 178.5,740.0 186.5,734.7 194.5,738.2 202.5,735.6 210.5,730.6 218.5,730.6 226.5,735.9 234.5,735.9 242.5,734.3 250.5,739.5 258.5,738.2 266.5,741.3 274.5,736.1 282.5,736.1 290.5,736.1 298.5,732.4 306.5,740.9 314.5,742.3 322.5,737.4 330.5,751.2 338.5,739.1 346.5,735.6 354.5,731.1 362.5,727.6 370.5,723.5 378.5,727.2 386.5,727.2 394.5,727.2 402.5,731.1 410.5,724.6 418.5,729.0 426.5,713.3 434.5,711.6 442.5,709.4 450.5,702.3 458.5,700.9 466.5,692.4 474.5,697.0 482.5,697.0 490.5,694.3 498.5,693.4 506.5,698.0 514.5,700.9 522.5,699.1 530.5,703.6 538.5,709.8 546.5,712.5 554.5,709.8 562.5,708.0 570.5,706.2 578.5,708.5 586.5,716.0 594.5,715.1 602.5,713.3 610.5,713.3 618.5,709.8 626.5,709.3 634.5,720.5 642.5,719.6 650.5,718.7 658.5,717.4 666.5,719.6 674.5,738.2 682.5,739.5 690.5,751.2 698.5,747.1 706.5,742.7 714.5,739.5 722.5,739.5 730.5,744.1 738.5,745.9 746.5,750.2 754.5,737.4 762.5,737.4 770.5,740.9 778.5,731.1 786.5,734.2 794.5,732.4 802.5,740.9 810.5,739.1 818.5,737.4 826.5,740.6 834.5,736.1 842.5,738.2 850.5,740.0 858.5,735.6 866.5,735.6 874.5,734.3 882.5,740.0 890.5,741.3 898.5,735.9 906.5,728.5 914.5,730.2 922.5,720.5 930.5,702.7 938.5,701.3 946.5,685.4 954.5,709.8 962.5,706.2 970.5,707.5 978.5,706.2 986.5,705.3 994.5,725.8 1002.5,721.4 1010.5,722.2 1018.5,722.2 1026.5,718.3 1034.5,718.3 1042.5,719.6 1050.5,716.0 1058.5,709.3 1066.5,705.3 1074.5,706.2 1082.5,706.2 1090.5,714.2 1098.5,711.0 1106.5,707.5 1114.5,711.6 1122.5,719.9 1130.5,722.2 1138.5,732.0 1146.5,728.5 1154.5,729.9 1162.5,734.7 1170.5,740.6 1178.5,744.8 1186.5,740.0 1194.5,735.6 1202.5,734.2 1210.5,731.7 1218.5,727.6 1226.5,730.2 1234.5,730.2 1242.5,725.4 1250.5,726.3" fill="none" stroke="#1E90FF" stroke-width="1" shape-rendering="crispEdges"/>
</g>
<polygon points="2,793 2,798 7,798" fill="#C0C0C0"/>
<rect x="1" y="23" width="1417" height="1" fill="#000000"/>
<rect x="1" y="562" width="1417" height="1" fill="#000000"/>
<rect x="1" y="23" width="1" height="540" fill="#000000"/>
<rect x="1417" y="23" width="1" height="540" fill="#000000"/>
<rect x="1" y="564" width="1417" height="1" fill="#000000"/>
<rect x="1" y="667" width="1417" height="1" fill="#000000"/>
<rect x="1" y="564" width="1" height="104" fill="#000000"/>
<rect x="1417" y="564" width="1" height="104" fill="#000000"/>
<rect x="1" y="669" width="1417" height="1" fill="#000000"/>
<rect x="1" y="799" width="1417" height="1" fill="#000000"/>
<rect x="1" y="669" width="1" height="131" fill="#000000"/>
<rect x="1417" y="669" width="1" height="131" fill="#000000"/>
<rect x="1" y="136" width="7" height="7" fill="#FF0000"/>
<rect x="4" y="139" width="1" height="1" fill="#FFFFFF"/>
<rect x="1411" y="136" width="7" height="7" fill="#FF0000"/>
<rect x="1414" y="139" width="1" height="1" fill="#FFFFFF"/>
<rect x="1" y="231" width="7" height="7" fill="#00FF00"/>
<rect x="4" y="234" width="1" height="1" fill="#FFFFFF"/>
<rect x="1411" y="231" width="7" height="7" fill="#00FF00"/>
<rect x="1414" y="234" width="1" height="1" fill="#FFFFFF"/>
<rect x="1" y="326" width="7" height="7" fill="#0000FF"/>
<rect x="4" y="329" width="1" height="1" fill="#FFFFFF"/>
<rect x="1411" y="326" width="7" height="7" fill="#0000FF"/>
<rect x="1414" y="329" width="1" height="1" fill="#FFFFFF"/>
<rect x="1418" y="31" width="2" height="1" fill="#000000"/>
<text transform="translate(1423,35) scale(0.91,1)" font-size="10" fill="#000" font-weight="normal" letter-spacing="0" stroke="#000" stroke-width="0.12">7.21390</text>
<rect x="1418" y="64" width="2" height="1" fill="#000000"/>
<text transform="translate(1423,68) scale(0.91,1)" font-size="10" fill="#000" font-weight="normal" letter-spacing="0" stroke="#000" stroke-width="0.12">7.17990</text>
<rect x="1418" y="97" width="2" height="1" fill="#000000"/>
<text transform="translate(1423,101) scale(0.91,1)" font-size="10" fill="#000" font-weight="normal" letter-spacing="0" stroke="#000" stroke-width="0.12">7.14490</text>
<rect x="1418" y="130" width="2" height="1" fill="#000000"/>
<text transform="translate(1423,134) scale(0.91,1)" font-size="10" fill="#000" font-weight="normal" letter-spacing="0" stroke="#000" stroke-width="0.12">7.10990</text>
<rect x="1418" y="163" width="2" height="1" fill="#000000"/>
<text transform="translate(1423,167) scale(0.91,1)" font-size="10" fill="#000" font-weight="normal" letter-spacing="0" stroke="#000" stroke-width="0.12">7.07490</text>
<rect x="1418" y="196" width="2" height="1" fill="#000000"/>
<text transform="translate(1423,200) scale(0.91,1)" font-size="10" fill="#000" font-weight="normal" letter-spacing="0" stroke="#000" stroke-width="0.12">7.04090</text>
<rect x="1418" y="229" width="2" height="1" fill="#000000"/>
<text transform="translate(1423,233) scale(0.91,1)" font-size="10" fill="#000" font-weight="normal" letter-spacing="0" stroke="#000" stroke-width="0.12">7.00590</text>
<rect x="1418" y="262" width="2" height="1" fill="#000000"/>
<text transform="translate(1423,266) scale(0.91,1)" font-size="10" fill="#000" font-weight="normal" letter-spacing="0" stroke="#000" stroke-width="0.12">6.97090</text>
<rect x="1418" y="295" width="2" height="1" fill="#000000"/>
<text transform="translate(1423,299) scale(0.91,1)" font-size="10" fill="#000" font-weight="normal" letter-spacing="0" stroke="#000" stroke-width="0.12">6.93590</text>
<rect x="1418" y="328" width="2" height="1" fill="#000000"/>
<text transform="translate(1423,332) scale(0.91,1)" font-size="10" fill="#000" font-weight="normal" letter-spacing="0" stroke="#000" stroke-width="0.12">6.90090</text>
<rect x="1418" y="361" width="2" height="1" fill="#000000"/>
<text transform="translate(1423,365) scale(0.91,1)" font-size="10" fill="#000" font-weight="normal" letter-spacing="0" stroke="#000" stroke-width="0.12">6.86690</text>
<rect x="1418" y="394" width="2" height="1" fill="#000000"/>
<text transform="translate(1423,398) scale(0.91,1)" font-size="10" fill="#000" font-weight="normal" letter-spacing="0" stroke="#000" stroke-width="0.12">6.83190</text>
<rect x="1418" y="427" width="2" height="1" fill="#000000"/>
<text transform="translate(1423,431) scale(0.91,1)" font-size="10" fill="#000" font-weight="normal" letter-spacing="0" stroke="#000" stroke-width="0.12">6.79790</text>
<rect x="1418" y="460" width="2" height="1" fill="#000000"/>
<text transform="translate(1423,464) scale(0.91,1)" font-size="10" fill="#000" font-weight="normal" letter-spacing="0" stroke="#000" stroke-width="0.12">6.76290</text>
<rect x="1418" y="493" width="2" height="1" fill="#000000"/>
<text transform="translate(1423,497) scale(0.91,1)" font-size="10" fill="#000" font-weight="normal" letter-spacing="0" stroke="#000" stroke-width="0.12">6.72790</text>
<rect x="1418" y="527" width="2" height="1" fill="#000000"/>
<text transform="translate(1423,531) scale(0.91,1)" font-size="10" fill="#000" font-weight="normal" letter-spacing="0" stroke="#000" stroke-width="0.12">6.69290</text>
<rect x="1418" y="559" width="2" height="1" fill="#000000"/>
<text transform="translate(1423,563) scale(0.91,1)" font-size="10" fill="#000" font-weight="normal" letter-spacing="0" stroke="#000" stroke-width="0.12">6.65890</text>
<rect x="1419" y="114" width="41" height="11" fill="#000000"/>
<text transform="translate(1423,123) scale(0.91,1)" font-size="10" fill="#FFFFFF" font-weight="normal" letter-spacing="0" >7.12126</text>
<rect x="1419" y="133" width="41" height="11" fill="#FF0000"/>
<text transform="translate(1423,142) scale(0.91,1)" font-size="10" fill="#FFFFFF" font-weight="normal" letter-spacing="0" >7.10029</text>
<rect x="1419" y="228" width="41" height="11" fill="#00FF00"/>
<text transform="translate(1423,237) scale(0.91,1)" font-size="10" fill="#FFFFFF" font-weight="normal" letter-spacing="0" >7.00048</text>
<rect x="1419" y="323" width="41" height="11" fill="#0000FF"/>
<text transform="translate(1423,332) scale(0.91,1)" font-size="10" fill="#FFFFFF" font-weight="normal" letter-spacing="0" >6.90100</text>
<rect x="1419" y="399" width="41" height="11" fill="#0000FF"/>
<text transform="translate(1423,408) scale(0.91,1)" font-size="10" fill="#FFFFFF" font-weight="normal" letter-spacing="0" >6.82103</text>
<rect x="1419" y="458" width="41" height="11" fill="#0000FF"/>
<text transform="translate(1423,467) scale(0.91,1)" font-size="10" fill="#FFFFFF" font-weight="normal" letter-spacing="0" >6.75804</text>
<rect x="1418" y="566" width="2" height="1" fill="#000000"/>
<text transform="translate(1421,575) scale(0.91,1)" font-size="10" fill="#000" font-weight="normal" letter-spacing="0" stroke="#000" stroke-width="0.12">0.060317</text>
<rect x="1418" y="631" width="2" height="1" fill="#000000"/>
<text transform="translate(1421,635) scale(0.91,1)" font-size="10" fill="#000" font-weight="normal" letter-spacing="0" stroke="#000" stroke-width="0.12">0.00</text>
<rect x="1418" y="666" width="2" height="1" fill="#000000"/>
<text transform="translate(1421,664) scale(0.91,1)" font-size="10" fill="#000" font-weight="normal" letter-spacing="0" stroke="#000" stroke-width="0.12">-0.032648</text>
<rect x="1418" y="671" width="2" height="1" fill="#000000"/>
<text transform="translate(1421,680) scale(0.91,1)" font-size="10" fill="#000" font-weight="normal" letter-spacing="0" stroke="#000" stroke-width="0.12">100</text>
<rect x="1418" y="709" width="2" height="1" fill="#000000"/>
<text transform="translate(1421,713) scale(0.91,1)" font-size="10" fill="#000" font-weight="normal" letter-spacing="0" stroke="#000" stroke-width="0.12">70</text>
<rect x="1418" y="760" width="2" height="1" fill="#000000"/>
<text transform="translate(1421,764) scale(0.91,1)" font-size="10" fill="#000" font-weight="normal" letter-spacing="0" stroke="#000" stroke-width="0.12">30</text>
<rect x="1418" y="798" width="2" height="1" fill="#000000"/>
<text transform="translate(1421,796) scale(0.91,1)" font-size="10" fill="#000" font-weight="normal" letter-spacing="0" stroke="#000" stroke-width="0.12">0</text>
<rect x="2" y="800" width="1" height="3" fill="#000000"/>
<text transform="translate(1.5,812) scale(0.88,1)" font-size="10" fill="#000" font-weight="normal" letter-spacing="0" word-spacing="1.2" stroke="#000" stroke-width="0.12">19 Feb 2019</text>
<rect x="66" y="800" width="1" height="3" fill="#000000"/>
<text transform="translate(65.5,812) scale(0.88,1)" font-size="10" fill="#000" font-weight="normal" letter-spacing="0" word-spacing="1.2" stroke="#000" stroke-width="0.12">1 Mar 2019</text>
<rect x="130" y="800" width="1" height="3" fill="#000000"/>
<text transform="translate(129.5,812) scale(0.88,1)" font-size="10" fill="#000" font-weight="normal" letter-spacing="0" word-spacing="1.2" stroke="#000" stroke-width="0.12">13 Mar 2019</text>
<rect x="194" y="800" width="1" height="3" fill="#000000"/>
<text transform="translate(193.5,812) scale(0.88,1)" font-size="10" fill="#000" font-weight="normal" letter-spacing="0" word-spacing="1.2" stroke="#000" stroke-width="0.12">25 Mar 2019</text>
<rect x="258" y="800" width="1" height="3" fill="#000000"/>
<text transform="translate(257.5,812) scale(0.88,1)" font-size="10" fill="#000" font-weight="normal" letter-spacing="0" word-spacing="1.2" stroke="#000" stroke-width="0.12">4 Apr 2019</text>
<rect x="322" y="800" width="1" height="3" fill="#000000"/>
<text transform="translate(321.5,812) scale(0.88,1)" font-size="10" fill="#000" font-weight="normal" letter-spacing="0" word-spacing="1.2" stroke="#000" stroke-width="0.12">16 Apr 2019</text>
<rect x="386" y="800" width="1" height="3" fill="#000000"/>
<text transform="translate(385.5,812) scale(0.88,1)" font-size="10" fill="#000" font-weight="normal" letter-spacing="0" word-spacing="1.2" stroke="#000" stroke-width="0.12">29 Apr 2019</text>
<rect x="450" y="800" width="1" height="3" fill="#000000"/>
<text transform="translate(449.5,812) scale(0.88,1)" font-size="10" fill="#000" font-weight="normal" letter-spacing="0" word-spacing="1.2" stroke="#000" stroke-width="0.12">9 May 2019</text>
<rect x="514" y="800" width="1" height="3" fill="#000000"/>
<text transform="translate(513.5,812) scale(0.88,1)" font-size="10" fill="#000" font-weight="normal" letter-spacing="0" word-spacing="1.2" stroke="#000" stroke-width="0.12">21 May 2019</text>
<rect x="578" y="800" width="1" height="3" fill="#000000"/>
<text transform="translate(577.5,812) scale(0.88,1)" font-size="10" fill="#000" font-weight="normal" letter-spacing="0" word-spacing="1.2" stroke="#000" stroke-width="0.12">31 May 2019</text>
<rect x="642" y="800" width="1" height="3" fill="#000000"/>
<text transform="translate(641.5,812) scale(0.88,1)" font-size="10" fill="#000" font-weight="normal" letter-spacing="0" word-spacing="1.2" stroke="#000" stroke-width="0.12">12 Jun 2019</text>
<rect x="706" y="800" width="1" height="3" fill="#000000"/>
<text transform="translate(705.5,812) scale(0.88,1)" font-size="10" fill="#000" font-weight="normal" letter-spacing="0" word-spacing="1.2" stroke="#000" stroke-width="0.12">24 Jun 2019</text>
<rect x="770" y="800" width="1" height="3" fill="#000000"/>
<text transform="translate(769.5,812) scale(0.88,1)" font-size="10" fill="#000" font-weight="normal" letter-spacing="0" word-spacing="1.2" stroke="#000" stroke-width="0.12">4 Jul 2019</text>
<rect x="834" y="800" width="1" height="3" fill="#000000"/>
<text transform="translate(833.5,812) scale(0.88,1)" font-size="10" fill="#000" font-weight="normal" letter-spacing="0" word-spacing="1.2" stroke="#000" stroke-width="0.12">16 Jul 2019</text>
<rect x="898" y="800" width="1" height="3" fill="#000000"/>
<text transform="translate(897.5,812) scale(0.88,1)" font-size="10" fill="#000" font-weight="normal" letter-spacing="0" word-spacing="1.2" stroke="#000" stroke-width="0.12">26 Jul 2019</text>
<rect x="962" y="800" width="1" height="3" fill="#000000"/>
<text transform="translate(961.5,812) scale(0.88,1)" font-size="10" fill="#000" font-weight="normal" letter-spacing="0" word-spacing="1.2" stroke="#000" stroke-width="0.12">7 Aug 2019</text>
<rect x="1026" y="800" width="1" height="3" fill="#000000"/>
<text transform="translate(1025.5,812) scale(0.88,1)" font-size="10" fill="#000" font-weight="normal" letter-spacing="0" word-spacing="1.2" stroke="#000" stroke-width="0.12">19 Aug 2019</text>
<rect x="1090" y="800" width="1" height="3" fill="#000000"/>
<text transform="translate(1089.5,812) scale(0.88,1)" font-size="10" fill="#000" font-weight="normal" letter-spacing="0" word-spacing="1.2" stroke="#000" stroke-width="0.12">29 Aug 2019</text>
<rect x="1154" y="800" width="1" height="3" fill="#000000"/>
<text transform="translate(1153.5,812) scale(0.88,1)" font-size="10" fill="#000" font-weight="normal" letter-spacing="0" word-spacing="1.2" stroke="#000" stroke-width="0.12">10 Sep 2019</text>
<rect x="1218" y="800" width="1" height="3" fill="#000000"/>
<text transform="translate(1217.5,812) scale(0.88,1)" font-size="10" fill="#000" font-weight="normal" letter-spacing="0" word-spacing="1.2" stroke="#000" stroke-width="0.12">20 Sep 2019</text>
<polygon points="5,34 12.5,34 8.75,30" fill="#000"/>
<text transform="translate(17.5,35) scale(0.94,1)" font-size="10" fill="#000" font-weight="normal" letter-spacing="0" stroke="#000" stroke-width="0.12">USDCNH-,Daily&#160;&#160;7.12428 7.13026 7.11990 7.12126</text>
<text transform="translate(6,578) scale(0.935,1)" font-size="10" fill="#000" font-weight="normal" letter-spacing="0" stroke="#000" stroke-width="0.12">MACD(12,26,9) 0.010177 0.008135</text>
<text transform="translate(6,683) scale(0.93,1)" font-size="10" fill="#000" font-weight="normal" letter-spacing="0" stroke="#000" stroke-width="0.12">RSI(14) 56.4922</text>
<defs><linearGradient id="gb" x1="0" y1="43" x2="0" y2="107" gradientUnits="userSpaceOnUse"><stop offset="0" stop-color="#5858FF"/><stop offset="0.37" stop-color="#3C3CEC"/><stop offset="1" stop-color="#0000A8"/></linearGradient></defs>
<path d="M5.5,43.5 H56.5 V67.5 H113.5 V106.5 H5.5 Z" fill="url(#gb)" stroke="#0000B0" stroke-width="1"/>
<path d="M116.5,67.5 H172.5 V43.5 H223.5 V106.5 H116.5 Z" fill="url(#gb)" stroke="#0000B0" stroke-width="1"/>
<rect x="9" y="66" width="45" height="1" fill="#1010B8"/>
<rect x="9" y="67" width="45" height="1" fill="#A8A8FF"/>
<rect x="176" y="66" width="45" height="1" fill="#1010B8"/>
<rect x="176" y="67" width="45" height="1" fill="#A8A8FF"/>
<text x="17.5" y="59" font-size="11.5" fill="#F0F0FF" font-weight="normal" letter-spacing="-0.1" >SELL</text>
<text x="185.5" y="59" font-size="11.5" fill="#F0F0FF" font-weight="normal" letter-spacing="-0.1" >BUY</text>
<text x="24.5" y="98" font-size="12" fill="#FFFFFF" font-weight="bold" letter-spacing="0.1" >7.12</text>
<text x="53" y="98" font-size="33" fill="#FFFFFF" font-weight="normal" letter-spacing="-1.5" >12</text>
<text x="92" y="82" font-size="12" fill="#FFFFFF" font-weight="bold" >6</text>
<text x="134.5" y="98" font-size="12" fill="#FFFFFF" font-weight="bold" letter-spacing="0.1" >7.12</text>
<text x="163" y="98" font-size="33" fill="#FFFFFF" font-weight="normal" letter-spacing="-1.5" >35</text>
<text x="202.5" y="82" font-size="12" fill="#FFFFFF" font-weight="bold" >9</text>
<rect x="59" y="43" width="111" height="22" fill="#B4B4B8"/>
<rect x="60" y="44" width="109" height="20" fill="#FFFFFF"/>
<defs><linearGradient id="gs" x1="0" y1="45" x2="0" y2="63" gradientUnits="userSpaceOnUse"><stop offset="0" stop-color="#F2F2F2"/><stop offset="0.3" stop-color="#ECECEC"/><stop offset="0.33" stop-color="#DADADA"/><stop offset="1" stop-color="#D2D2D2"/></linearGradient></defs>
<rect x="61" y="45" width="18" height="18" fill="url(#gs)"/>
<rect x="80" y="44" width="1" height="20" fill="#B4B4B8"/>
<rect x="150" y="45" width="18" height="18" fill="url(#gs)"/>
<rect x="148" y="44" width="1" height="20" fill="#B4B4B8"/>
<polygon points="66.5,52 72.5,52 69.5,55" fill="#4A64C4"/>
<polygon points="155.5,55 161.5,55 158.5,52" fill="#4A64C4"/>
<text x="144.5" y="58" font-size="12" fill="#000" font-weight="normal" letter-spacing="-0.3" text-anchor="end" >1.00</text>
<rect x="0" y="820" width="1462" height="1" fill="#EBEBEB"/>
<rect x="0" y="822" width="1462" height="1" fill="#000000"/>
<rect x="0" y="824" width="1462" height="18" fill="#F0F0F0"/>
<rect x="0" y="842" width="1462" height="1" fill="#FFFFFF"/>
<rect x="0" y="843" width="1462" height="3" fill="#F0F0F0"/>
<rect x="0" y="846" width="1462" height="1" fill="#A0A0A0"/>
<rect x="436" y="822" width="110" height="18" fill="#FFFFFF"/>
<rect x="435" y="822" width="1" height="19" fill="#000000"/>
<rect x="546" y="822" width="1" height="19" fill="#000000"/>
<rect x="435" y="840" width="112" height="1" fill="#000000"/>
<text x="14" y="837" font-size="12" fill="#6A6A6A" font-weight="normal" >EURUSD-,Daily</text>
<text x="121" y="837" font-size="12" fill="#6A6A6A" font-weight="normal" >AUDUSD-,Daily</text>
<text x="231" y="837" font-size="12" fill="#6A6A6A" font-weight="normal" >USDCHF-,Daily</text>
<text x="338.5" y="837" font-size="12" fill="#6A6A6A" font-weight="normal" >USDCAD-,Daily</text>
<text x="447" y="837" font-size="12" fill="#000" font-weight="normal" >USDCNH-,Daily</text>
<text x="558" y="837" font-size="12" fill="#6A6A6A" font-weight="normal" >EURCHF-,Weekly</text>
<text x="677.5" y="837" font-size="12" fill="#6A6A6A" font-weight="normal" >XAUUSD-,Daily</text>
<text x="786" y="837" font-size="12" fill="#6A6A6A" font-weight="normal" >GBPUSD-,H1</text>
<text x="882.5" y="837" font-size="12" fill="#6A6A6A" font-weight="normal" >UKOil-,H1</text>
<text x="961" y="837" font-size="12" fill="#6A6A6A" font-weight="normal" >USDX-,Weekly</text>
<text x="1066" y="837" font-size="12" fill="#6A6A6A" font-weight="normal" >EURCHF-,Weekly</text>
<rect x="111" y="825" width="1" height="14" fill="#606060"/>
<rect x="219" y="825" width="1" height="14" fill="#606060"/>
<rect x="327" y="825" width="1" height="14" fill="#606060"/>
<rect x="668" y="825" width="1" height="14" fill="#606060"/>
<rect x="775" y="825" width="1" height="14" fill="#606060"/>
<rect x="871" y="825" width="1" height="14" fill="#606060"/>
<rect x="951" y="825" width="1" height="14" fill="#606060"/>
<rect x="1055" y="825" width="1" height="14" fill="#606060"/>
<rect x="1175" y="825" width="1" height="14" fill="#606060"/>
<polygon points="1436,828 1436,834 1433,831" fill="#909090"/>
<polygon points="1452,828 1452,834 1455,831" fill="#909090"/>
</svg>
</body></html>
